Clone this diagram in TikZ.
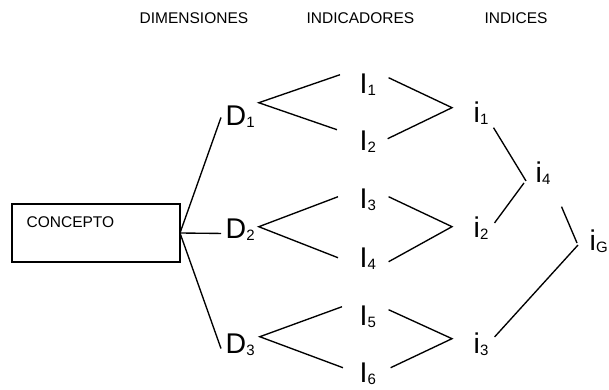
\documentclass[tikz,border=0pt]{standalone}
\usepackage{fontspec}
\setmainfont{Liberation Sans}
\newcommand{\sublbl}[2]{\fontsize{28.5}{30}\selectfont #1\raisebox{-2.5pt}{\fontsize{15}{16}\selectfont #2}}

\begin{document}
\begin{tikzpicture}[x=1pt, y=-1pt, line width=1.35pt,
	lbl/.style={anchor=base west, inner sep=0pt},
	hdr/.style={anchor=base west, inner sep=0pt, font=\fontsize{15.5}{17}\selectfont}]
	\useasboundingbox (0,0) rectangle (609,389);
	% column titles
	\node[hdr] (hdim) at (139,23) {DIMENSIONES};
	\node[hdr] (hind) at (306,23) {INDICADORES};
	\node[hdr] (hidx) at (484,23) {INDICES};
	% concept box
	\node[draw, anchor=north west, minimum width=168pt, minimum height=58pt, inner sep=0pt, outer sep=0pt] (concept) at (12,204) {};
	\node[hdr] (ctext) at (26,227) {CONCEPTO};
	% dimensions, indicators, indices
	\foreach \k/\y in {1/125, 2/238, 3/353}
		\node[lbl] (D\k) at (225,\y) {\sublbl{D}{\k}};
	\foreach \k/\y in {1/93, 2/150, 3/208, 4/267, 5/325, 6/382}
		\node[lbl] (I\k) at (359,\y) {\sublbl{I}{\k}};
	\node[lbl] (i1) at (473,122) {\sublbl{i}{1}};
	\node[lbl] (i2) at (473,237) {\sublbl{i}{2}};
	\node[lbl] (i3) at (473,353) {\sublbl{i}{3}};
	\node[lbl] (i4) at (535,182) {\sublbl{i}{4}};
	\node[lbl] (iG) at (589,250) {\sublbl{i}{G}};
	% junction points
	\foreach \k/\dx/\dy in {1/3.5/-2, 2/3.5/9, 3/4.5/4}
		\coordinate (dj\k) at ([shift={(\dx,\dy)}]D\k.north east);
	\foreach \k/\lx/\ly/\rx/\ry in {1/-19/2/12/5, 2/-22/0/11/9, 3/-21/9/12/9, 4/-21/11/12/15, 5/-17/2/12/5, 6/-16/6/14/6} {
		\coordinate (Il\k) at ([shift={(\lx,\ly)}]I\k.north west);
		\coordinate (Ir\k) at ([shift={(\rx,\ry)}]I\k.north east);
	}
	\foreach \k/\dy in {1/7, 2/11, 3/7}
		\coordinate (ij\k) at ([shift={(-21,\dy)}]i\k.north west);
	% connectors
	\foreach \k/\dy in {1/1, 2/4, 3/4}
		\draw (concept.east) -- ([shift={(-4,\dy)}]D\k.west);
	\foreach \k/\a/\b in {1/1/2, 2/3/4, 3/5/6} {
		\draw (Il\a) -- (dj\k) -- (Il\b);
		\draw (Ir\a) -- (ij\k) -- (Ir\b);
	}
	\draw ([shift={(4.5,2.5)}]i1.south east) -- ([shift={(-9,8)}]i4.west);
	\draw ([shift={(5.5,-5)}]i2.east) -- ([shift={(-11,10)}]i4.west);
	\draw ([shift={(10.5,21.5)}]i4.south east) -- ([shift={(-12,2)}]iG.west);
	\draw ([shift={(5.5,-7)}]i3.east) -- ([shift={(-11,4)}]iG.west);
\end{tikzpicture}
\end{document}
